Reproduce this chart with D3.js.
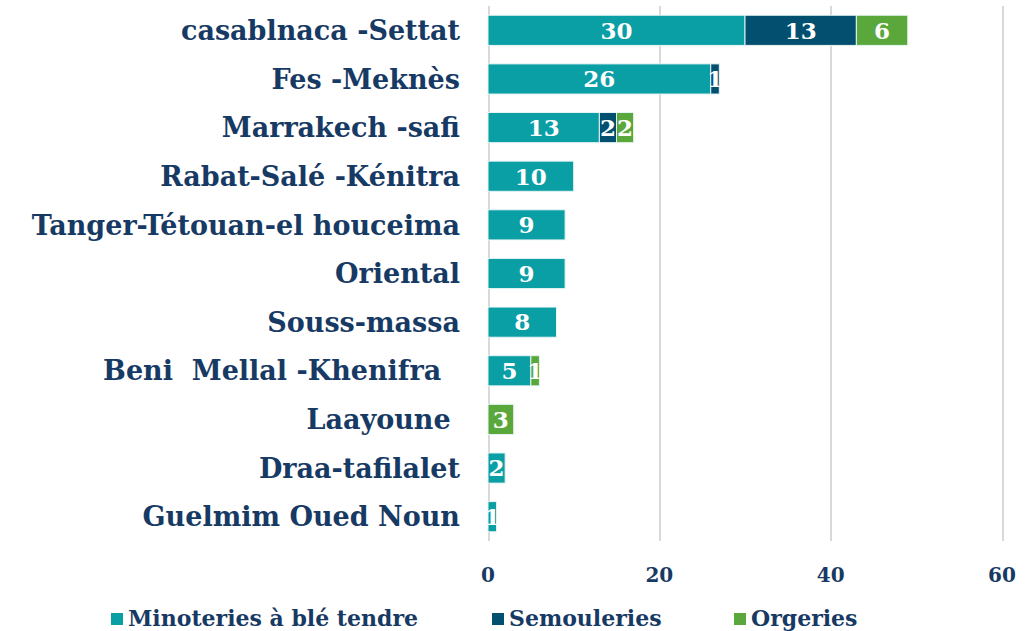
<!doctype html>
<html>
<head>
  <style>
      body { margin:0; background:#fff; }
      svg { width:1035px; height:631px; display:block; }
      text { font-family:"DejaVu Serif", serif; font-weight:bold; fill:#173a64; white-space:pre; }
      .grid line { stroke:#d9d9d9; stroke-width:2; shape-rendering:crispEdges; }
      .grid path { display:none; }
      .val { fill:#fff; text-anchor:middle; }
  </style>
  <script src="https://cdn.jsdelivr.net/npm/d3@7"></script>
</head>
<body>
  <script>
      // data
      var regions = ["casablnaca -Settat", "Fes -Meknès", "Marrakech -safi", "Rabat-Salé -Kénitra",
                     "Tanger-Tétouan-el houceima", "Oriental", "Souss-massa", "Beni  Mellal -Khenifra  ",
                     "Laayoune ", "Draa-tafilalet", "Guelmim Oued Noun"];
      var minoteries  = [30, 26, 13, 10, 9, 9, 8, 5, 0, 2, 1];
      var semouleries = [13, 1, 2, 0, 0, 0, 0, 0, 0, 0, 0];
      var orgeries    = [6, 0, 2, 0, 0, 0, 0, 1, 3, 0, 0];
      var seriesNames = ["Minoteries à blé tendre", "Semouleries", "Orgeries"];
      var xTicks = [0, 20, 40, 60];

      var colors = ["#0a9ea5", "#024f6f", "#5aa83b"];

      var rows = regions.map(function(r, i) {
         return { region: r, m: minoteries[i], s: semouleries[i], o: orgeries[i] };
      });
      var stack = d3.stack().keys(["m", "s", "o"])(rows);

      var svg = d3.select("body").append("svg");

      var x = d3.scaleLinear().domain([0, 60]).range([488, 1002]);
      var y = d3.scaleBand().domain(regions).range([6, 541]).paddingInner(0.38).paddingOuter(0.19);

      // gridlines
      svg.append("g").attr("class", "grid")
         .attr("transform", "translate(0,541)")
         .call(d3.axisBottom(x).tickValues(xTicks).tickSize(-535).tickFormat(""));

      // bars
      var layer = svg.selectAll("g.layer").data(stack).enter()
         .append("g").attr("class", "layer")
         .attr("fill", function(d, i) { return colors[i]; });

      layer.selectAll("rect").data(function(d) { return d; }).enter()
         .filter(function(d) { return d[1] - d[0] > 0; })
         .append("rect")
         .attr("x", function(d) { return x(d[0]); })
         .attr("y", function(d) { return y(d.data.region); })
         .attr("width", function(d) { return x(d[1]) - x(d[0]); })
         .attr("height", y.bandwidth())
         .attr("stroke", "#e8f4f4")
         .attr("stroke-width", 1);

      layer.selectAll("text").data(function(d) { return d; }).enter()
         .filter(function(d) { return d[1] - d[0] > 0; })
         .append("text").attr("class", "val")
         .attr("x", function(d) { return (x(d[0]) + x(d[1])) / 2; })
         .attr("y", function(d) { return y(d.data.region) + y.bandwidth() / 2; })
         .attr("dy", "0.36em")
         .style("font-size", "23px")
         .text(function(d) { return d[1] - d[0]; });

      // category labels
      svg.append("g").selectAll("text").data(regions).enter()
         .append("text")
         .attr("x", 460)
         .attr("y", function(d) { return y(d) + y.bandwidth() / 2; })
         .attr("dy", "0.36em")
         .attr("text-anchor", "end")
         .style("font-size", "27px")
         .text(function(d) { return d; });

      // x tick labels
      svg.append("g").selectAll("text").data(xTicks).enter()
         .append("text")
         .attr("x", function(d) { return x(d); })
         .attr("y", 582)
         .attr("text-anchor", "middle")
         .style("font-size", "20px")
         .text(function(d) { return d; });

      // legend
      var legendX = [111, 492, 734];
      var leg = svg.append("g").selectAll("g").data(seriesNames).enter()
         .append("g")
         .attr("transform", function(d, i) { return "translate(" + legendX[i] + ",613)"; });
      leg.append("rect").attr("width", 12).attr("height", 12)
         .attr("fill", function(d, i) { return colors[i]; });
      leg.append("text").attr("x", 17).attr("y", 13)
         .style("font-size", "22px")
         .text(function(d) { return d; });
  </script>
</body>
</html>
